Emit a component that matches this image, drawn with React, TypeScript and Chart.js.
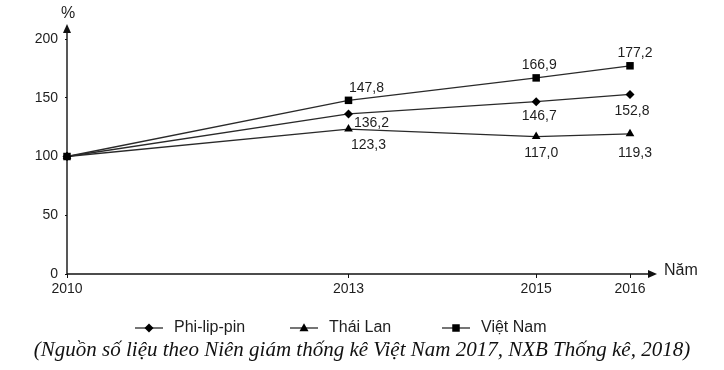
import React, { useEffect, useRef } from "react";
import { Chart, registerables } from "chart.js";

Chart.register(...registerables);

// ---- data ----
const years = [2010, 2013, 2015, 2016];
const yTicks = [0, 50, 100, 150, 200];
const seriesNames = ["Phi-lip-pin", "Thái Lan", "Việt Nam"];
const philippines = [100, 136.2, 146.7, 152.8];
const thailand = [100, 123.3, 117.0, 119.3];
const vietnam = [100, 147.8, 166.9, 177.2];
const caption =
  "(Nguồn số liệu theo Niên giám thống kê Việt Nam 2017, NXB Thống kê, 2018)";

// label placement (pixel offsets from each point, index 0 = 2010 has no label)
const labelOffsets: Array<Array<[number, number] | null>> = [
  [null, [23, 9], [3, 15], [2, 17]],
  [null, [20, 16], [5, 17], [5, 19]],
  [null, [18, -12], [3, -13], [5, -13]],
];

const INK = "#1e1e1e";
const LINE = "#2a2a2a";
const FONT = "'Liberation Sans', Arial, sans-serif";
const markerStyles = ["diamond", "triangle", "square"];

function fmt(v: number) {
  return v.toFixed(1).replace(".", ",");
}

function drawMarker(ctx: CanvasRenderingContext2D, kind: string, x: number, y: number) {
  ctx.beginPath();
  if (kind === "diamond") {
    const r = 4.5;
    ctx.moveTo(x, y - r);
    ctx.lineTo(x + r, y);
    ctx.lineTo(x, y + r);
    ctx.lineTo(x - r, y);
  } else if (kind === "triangle") {
    const h = 8, w = 9;
    ctx.moveTo(x, y - h * 0.6);
    ctx.lineTo(x + w / 2, y + h * 0.4);
    ctx.lineTo(x - w / 2, y + h * 0.4);
  } else {
    const s = 7.5;
    ctx.rect(x - s / 2, y - s / 2, s, s);
  }
  ctx.closePath();
  ctx.fill();
}

const decorPlugin = {
  id: "decor",
  beforeDatasetsDraw(chart: any) {
    const { ctx, chartArea } = chart;
    const { left, bottom, right } = chartArea;
    ctx.save();
    ctx.strokeStyle = "#111";
    ctx.fillStyle = "#111";
    ctx.lineWidth = 1.4;
    // y axis
    ctx.beginPath();
    ctx.moveTo(left, bottom);
    ctx.lineTo(left, 30);
    ctx.stroke();
    ctx.beginPath();
    ctx.moveTo(left, 24);
    ctx.lineTo(left + 4, 33);
    ctx.lineTo(left - 4, 33);
    ctx.closePath();
    ctx.fill();
    // x axis
    const tip = right + 27;
    ctx.beginPath();
    ctx.moveTo(left, bottom);
    ctx.lineTo(tip - 4, bottom);
    ctx.stroke();
    ctx.beginPath();
    ctx.moveTo(tip, bottom);
    ctx.lineTo(tip - 9, bottom - 4);
    ctx.lineTo(tip - 9, bottom + 4);
    ctx.closePath();
    ctx.fill();
    // axis titles
    ctx.fillStyle = INK;
    ctx.font = `16px ${FONT}`;
    ctx.textBaseline = "middle";
    ctx.textAlign = "center";
    ctx.fillText("%", left + 1, 14);
    ctx.textAlign = "left";
    ctx.fillText("Năm", tip + 7, bottom - 3);
    ctx.restore();
  },
  afterDraw(chart: any) {
    const { ctx } = chart;
    ctx.save();
    ctx.fillStyle = INK;
    ctx.font = `14px ${FONT}`;
    ctx.textAlign = "center";
    ctx.textBaseline = "middle";
    chart.data.datasets.forEach((ds: any, di: number) => {
      const meta = chart.getDatasetMeta(di);
      meta.data.forEach((pt: any, i: number) => {
        const off = labelOffsets[di][i];
        if (!off) return;
        ctx.fillText(fmt(ds.data[i].y), pt.x + off[0], pt.y + off[1]);
      });
    });
    // legend
    const starts = [135, 290, 442];
    const ly = 328;
    ctx.font = `16px ${FONT}`;
    ctx.textAlign = "left";
    seriesNames.forEach((name, i) => {
      const x0 = starts[i];
      ctx.strokeStyle = LINE;
      ctx.lineWidth = 1.3;
      ctx.beginPath();
      ctx.moveTo(x0, ly);
      ctx.lineTo(x0 + 28, ly);
      ctx.stroke();
      ctx.fillStyle = "#000";
      drawMarker(ctx, markerStyles[i], x0 + 14, ly);
      ctx.fillStyle = INK;
      ctx.fillText(name, x0 + 39, ly);
    });
    ctx.restore();
  },
};

export default function App() {
  const ref = useRef<HTMLCanvasElement | null>(null);

  useEffect(() => {
    if (!ref.current) return;
    const mk = (vals: number[]) => vals.map((v, i) => ({ x: years[i], y: v }));
    const common = {
      borderColor: LINE,
      borderWidth: 1.3,
      backgroundColor: "#000",
      pointBackgroundColor: "#000",
      pointBorderColor: "#000",
      pointBorderWidth: 0,
      tension: 0,
      clip: false,
    };
    const chart = new Chart(ref.current, {
      type: "line",
      data: {
        datasets: [
          { ...common, label: seriesNames[0], data: mk(philippines), pointStyle: "rectRot", pointRadius: 4.5 },
          { ...common, label: seriesNames[1], data: mk(thailand), pointStyle: "triangle", pointRadius: 5 },
          { ...common, label: seriesNames[2], data: mk(vietnam), pointStyle: "rect", pointRadius: 5.3 },
        ],
      },
      options: {
        animation: false,
        responsive: false,
        maintainAspectRatio: false,
        layout: { padding: { top: 39, right: 94, bottom: 66, left: 0 } },
        plugins: {
          legend: { display: false },
          tooltip: { enabled: false },
        },
        scales: {
          x: {
            type: "linear",
            min: years[0],
            max: years[years.length - 1],
            afterBuildTicks: (s: any) => {
              s.ticks = years.map((v) => ({ value: v }));
            },
            afterFit: (s: any) => {
              s.height = 30;
            },
            border: { display: false },
            grid: { drawOnChartArea: false, drawTicks: true, tickLength: 4, color: "#111" },
            ticks: {
              color: INK,
              font: { size: 14, family: FONT },
              padding: 3,
              maxRotation: 0,
              callback: (v: any) => String(v),
            },
          },
          y: {
            min: 0,
            max: 200,
            afterBuildTicks: (s: any) => {
              s.ticks = yTicks.map((v) => ({ value: v }));
            },
            afterFit: (s: any) => {
              s.width = 67;
            },
            border: { display: false },
            grid: { drawOnChartArea: false, drawTicks: true, tickLength: 2, color: "#111" },
            ticks: {
              color: INK,
              font: { size: 14, family: FONT },
              padding: 7,
              callback: (v: any) => String(v),
            },
          },
        },
      },
      plugins: [decorPlugin],
    } as any);
    return () => chart.destroy();
  }, []);

  return (
    <div style={{ position: "absolute", left: 0, top: 0, width: 724, height: 370, background: "#fff" }}>
      <canvas ref={ref} width={724} height={370} style={{ position: "absolute", left: 0, top: 0 }} />
      <div
        style={{
          position: "absolute",
          left: 0,
          top: 337,
          width: 724,
          textAlign: "center",
          fontFamily: "'Liberation Serif', 'Times New Roman', serif",
          fontStyle: "italic",
          fontSize: 21,
          lineHeight: "24px",
          color: "#111",
          whiteSpace: "nowrap",
        }}
      >
        {caption}
      </div>
    </div>
  );
}
